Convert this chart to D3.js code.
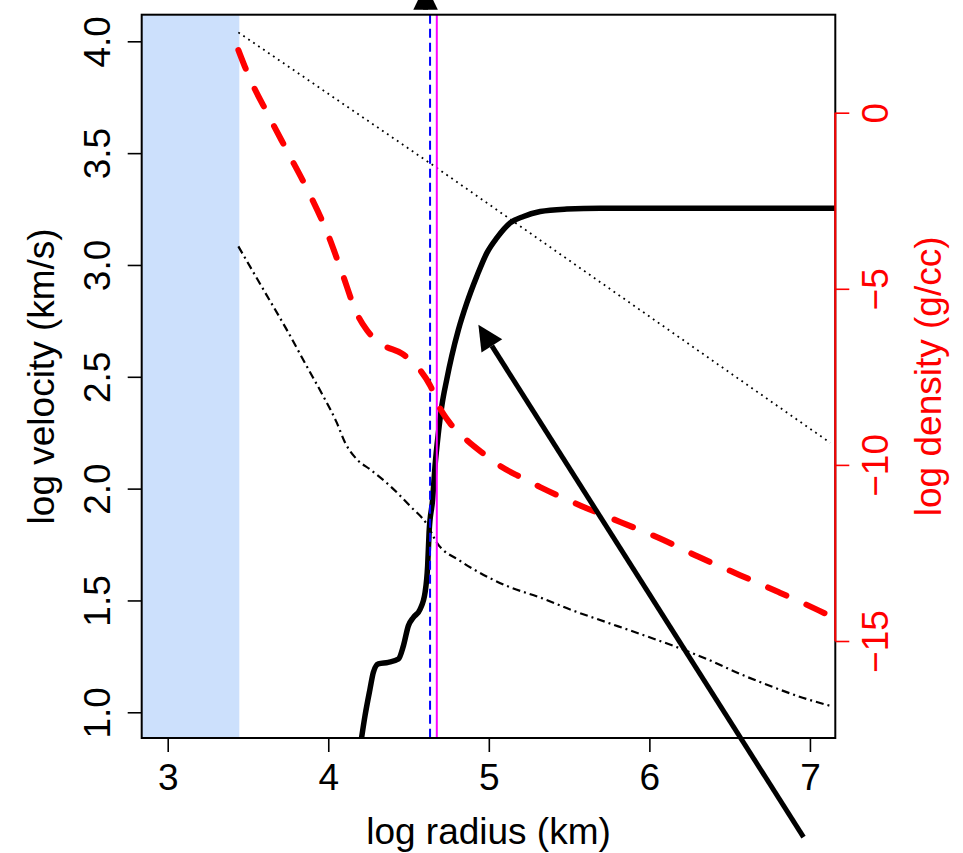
<!DOCTYPE html>
<head>
  <meta charset="utf-8">
  <style>
    body { margin: 0; background: #ffffff; }
    svg text { font-family: "Liberation Sans", Arial, Helvetica, sans-serif; }
  </style>
  <script src="https://cdnjs.cloudflare.com/ajax/libs/d3/7.8.5/d3.min.js"></script>
  <title></title>
</head>
<body>
<div class="home"></div>
<script>
    // shock velocity profile (log radius km, log velocity km/s)
    const velR = [4.20, 4.229, 4.260, 4.281, 4.312, 4.374, 4.437, 4.468, 4.499, 4.530, 4.572, 4.603,
        4.619, 4.628, 4.650, 4.665, 4.686, 4.707, 4.738, 4.769, 4.811, 4.863, 4.925, 4.988,
        5.050, 5.133, 5.216, 5.320, 5.486, 5.693, 7.159];
    const velV = [0.85, 0.985, 1.104, 1.179, 1.216, 1.223, 1.238, 1.297, 1.387, 1.424, 1.461, 1.536,
        1.655, 1.804, 1.952, 2.101, 2.250, 2.369, 2.488, 2.592, 2.711, 2.830, 2.949, 3.054,
        3.121, 3.188, 3.217, 3.239, 3.250, 3.254, 3.254];

    // density profile (right axis, log g/cc)
    const rhoR = [3.440, 3.502, 3.627, 3.751, 3.876, 3.991, 4.084, 4.178, 4.240, 4.343, 4.458, 4.572,
        4.634, 4.697, 4.759, 4.863, 4.966, 5.081, 5.195, 5.320, 5.569, 5.818, 6.067, 6.306,
        6.565, 6.804, 7.054, 7.159];
    const rhoD = [1.78, 1.07, -0.07, -1.15, -2.24, -3.38, -4.52, -5.70, -6.17, -6.60, -6.84, -7.31,
        -7.74, -8.40, -8.82, -9.30, -9.68, -10.06, -10.34, -10.63, -11.15, -11.62, -12.09, -12.61,
        -13.13, -13.61, -14.13, -14.36];

    // escape velocity (dotted)
    const escR = [3.440, 4.634, 7.126];
    const escV = [4.040, 3.455, 2.205];

    // dot-dash velocity curve
    const ddR = [3.440, 3.596, 3.741, 3.866, 3.969, 4.053, 4.105, 4.178, 4.260, 4.385, 4.510, 4.614,
        4.676, 4.821, 4.904, 5.112, 5.320, 5.527, 5.735, 5.943, 6.150, 6.358, 6.566, 6.773,
        6.981, 7.126];
    const ddV = [3.083, 2.890, 2.711, 2.547, 2.413, 2.295, 2.205, 2.131, 2.086, 2.012, 1.922, 1.841,
        1.759, 1.677, 1.640, 1.565, 1.513, 1.454, 1.402, 1.350, 1.297, 1.238, 1.171, 1.112,
        1.059, 1.029];

    const shadeEdge = 3.446;
    const blueLine = 4.634;
    const magentaLine = 4.676;

    // arrows: [tailR, tailV, tipR, tipV]
    const arrowBig = [6.96, 0.442, 4.935, 2.733];
    const arrowTop = [4.606, 4.162, 4.606, 4.254];

    const xTicks = [3, 4, 5, 6, 7];
    const yTicks = [1.0, 1.5, 2.0, 2.5, 3.0, 3.5, 4.0];
    const rhoTicks = [0, -5, -10, -15];

    const width = 963, height = 853;
    const m = {left: 141.7, right: 835.3, top: 14.7, bottom: 738};
    const fontSize = 37;

    const svg = d3.select(".home").append("svg")
        .attr("width", width)
        .attr("height", height);

    const x = d3.scaleLinear().domain([2.838, 7.158]).range([m.left, m.right]);
    const y = d3.scaleLinear().domain([0.885, 4.119]).range([m.bottom, m.top]);
    const yRho = d3.scaleLinear().domain([-17.754, 2.782]).range([m.bottom, m.top]);

    svg.append("clipPath").attr("id", "plotclip")
        .append("rect")
        .attr("x", m.left).attr("y", m.top)
        .attr("width", m.right - m.left).attr("height", m.bottom - m.top);

    const plot = svg.append("g").attr("clip-path", "url(#plotclip)");

    // shaded inner region
    plot.append("rect")
        .attr("x", m.left)
        .attr("y", m.top)
        .attr("width", x(shadeEdge) - m.left)
        .attr("height", m.bottom - m.top)
        .style("fill", "#cce0fc");

    const lineV = d3.line().x(d => x(d[0])).y(d => y(d[1]));
    const lineRho = d3.line().x(d => x(d[0])).y(d => yRho(d[1])).curve(d3.curveMonotoneX);

    plot.append("path")
        .attr("d", lineV(escR.map((r, i) => [r, escV[i]])))
        .style("fill", "none").style("stroke", "#000")
        .style("stroke-width", 1.8).style("stroke-dasharray", "1.8 4.2");

    plot.append("path")
        .attr("d", lineV.curve(d3.curveMonotoneX)(ddR.map((r, i) => [r, ddV[i]])))
        .style("fill", "none").style("stroke", "#000")
        .style("stroke-width", 2.2).style("stroke-dasharray", "8 4 2 4");

    plot.append("path")
        .attr("d", lineV.curve(d3.curveMonotoneX)(velR.map((r, i) => [r, velV[i]])))
        .style("fill", "none").style("stroke", "#000")
        .style("stroke-width", 5.5).style("stroke-linejoin", "round");

    // vertical markers
    plot.append("line")
        .attr("x1", x(blueLine)).attr("x2", x(blueLine))
        .attr("y1", m.top).attr("y2", m.bottom)
        .style("stroke", "#0000ff").style("stroke-width", 2)
        .style("stroke-dasharray", "9 5");

    plot.append("line")
        .attr("x1", x(magentaLine)).attr("x2", x(magentaLine))
        .attr("y1", m.top).attr("y2", m.bottom)
        .style("stroke", "#ff00ff").style("stroke-width", 2);

    plot.append("path")
        .attr("d", lineRho(rhoR.map((r, i) => [r, rhoD[i]])))
        .style("fill", "none").style("stroke", "#ff0000")
        .style("stroke-width", 6).style("stroke-linecap", "round")
        .style("stroke-dasharray", "20 22");

    // box
    svg.append("rect")
        .attr("x", m.left).attr("y", m.top)
        .attr("width", m.right - m.left).attr("height", m.bottom - m.top)
        .style("fill", "none").style("stroke", "#000").style("stroke-width", 2);

    // bottom axis
    const gx = svg.append("g")
        .attr("transform", `translate(0,${m.bottom})`)
        .call(d3.axisBottom(x).tickValues(xTicks).tickSize(14).tickSizeOuter(0).tickFormat(d3.format("d")));
    gx.select(".domain").remove();
    gx.selectAll("line").style("stroke-width", 1.6);
    gx.selectAll("text").attr("y", 52).attr("dy", null)
        .style("font-size", fontSize + "px").style("fill", "#000");

    // left axis, labels parallel to axis
    const gy = svg.append("g")
        .attr("transform", `translate(${m.left},0)`)
        .call(d3.axisLeft(y).tickValues(yTicks).tickSize(14).tickSizeOuter(0).tickFormat(d3.format(".1f")));
    gy.select(".domain").remove();
    gy.selectAll("line").style("stroke-width", 1.6);
    gy.selectAll("text")
        .attr("x", 0).attr("y", -31.7).attr("dy", null)
        .attr("text-anchor", "middle").attr("transform", "rotate(-90)")
        .style("font-size", fontSize + "px").style("fill", "#000");

    // right axis for density, red
    const gr = svg.append("g")
        .attr("transform", `translate(${m.right},0)`)
        .call(d3.axisRight(yRho).tickValues(rhoTicks).tickSize(14).tickSizeOuter(0).tickFormat(d3.format("d")));
    gr.select(".domain").remove();
    gr.selectAll("line").style("stroke", "#ff0000").style("stroke-width", 1.6);
    gr.selectAll("text")
        .attr("x", 0).attr("y", 52.7).attr("dy", null)
        .attr("text-anchor", "middle").attr("transform", "rotate(-90)")
        .style("font-size", fontSize + "px").style("fill", "#ff0000");
    gr.append("line")
        .attr("x1", 0).attr("x2", 0)
        .attr("y1", yRho(d3.max(rhoTicks))).attr("y2", yRho(d3.min(rhoTicks)))
        .style("stroke", "#ff0000").style("stroke-width", 2);

    // axis titles
    svg.append("text")
        .attr("x", (m.left + m.right) / 2).attr("y", 844)
        .attr("text-anchor", "middle")
        .style("font-size", fontSize + "px")
        .text("log radius (km)");

    svg.append("text")
        .attr("transform", `translate(54,${(m.top + m.bottom) / 2}) rotate(-90)`)
        .attr("text-anchor", "middle")
        .style("font-size", fontSize + "px")
        .text("log velocity (km/s)");

    svg.append("text")
        .attr("transform", `translate(941,${(m.top + m.bottom) / 2}) rotate(-90)`)
        .attr("text-anchor", "middle")
        .style("font-size", fontSize + "px")
        .style("fill", "#ff0000")
        .text("log density (g/cc)");

    // arrows with filled heads
    function drawArrow(a) {
        const tx = x(a[0]), ty = y(a[1]), hx = x(a[2]), hy = y(a[3]);
        const len = 28, ang = 26 * Math.PI / 180;
        const dx = tx - hx, dy = ty - hy, d = Math.sqrt(dx * dx + dy * dy);
        const ux = dx / d, uy = dy / d;
        const p1 = [hx + len * (ux * Math.cos(ang) - uy * Math.sin(ang)), hy + len * (ux * Math.sin(ang) + uy * Math.cos(ang))];
        const p2 = [hx + len * (ux * Math.cos(-ang) - uy * Math.sin(-ang)), hy + len * (ux * Math.sin(-ang) + uy * Math.cos(-ang))];
        const bx = hx + ux * len * Math.cos(ang), by = hy + uy * len * Math.cos(ang);
        svg.append("line")
            .attr("x1", tx).attr("y1", ty).attr("x2", bx).attr("y2", by)
            .style("stroke", "#000").style("stroke-width", 5);
        svg.append("path")
            .attr("d", d3.line()([[hx, hy], p1, p2]) + "Z")
            .style("fill", "#000");
    }
    drawArrow(arrowBig);
    drawArrow(arrowTop);
</script>
</body>
